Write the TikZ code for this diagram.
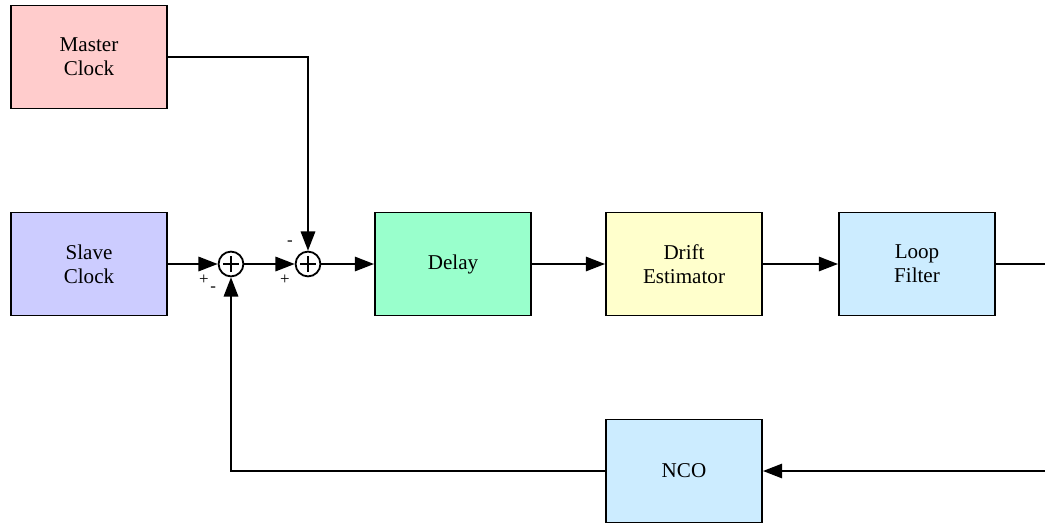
\documentclass[tikz,border=0pt]{standalone}
\usepackage{fontspec}
\setmainfont{Liberation Serif}
\definecolor{masterred}{RGB}{255,204,204}
\definecolor{slaveblue}{RGB}{204,204,255}
\definecolor{delaygreen}{RGB}{153,255,204}
\definecolor{driftyellow}{RGB}{255,255,204}
\definecolor{filtercyan}{RGB}{204,236,255}
\usetikzlibrary{arrows.meta,positioning,calc}

\begin{document}
\begin{tikzpicture}[
  block/.style={
    rectangle,
    minimum width=3.9cm, minimum height=2.575cm,
    draw=black, line width=1.4pt,
    font=\fontsize{15}{17}\selectfont,
    align=center
  },
  summer/.style={
    circle, draw=black, line width=1.3pt, minimum size=0.62cm, inner sep=0pt,
    path picture={
      \draw[line width=0.8pt] ($(path picture bounding box.center)+(-0.2,0)$) -- ($(path picture bounding box.center)+(0.2,0)$);
      \draw[line width=0.8pt] ($(path picture bounding box.center)+(0,-0.2)$) -- ($(path picture bounding box.center)+(0,0.2)$);
    }
  },
  sign/.style={font=\large, inner sep=0pt},
  wire/.style={line width=1.3pt, draw=black},
  conn/.style={-{Triangle[length=0.48cm, width=0.36cm]}, line width=1.3pt, draw=black}
]
\useasboundingbox (0,0) rectangle (26.125,-13.1);

\node[block, fill=masterred]   (master) at (2.225,-1.425)  {Master\\Clock};
\node[block, fill=slaveblue]   (slave)  at (2.225,-6.6)    {Slave\\Clock};
\node[summer]                  (sum1)   at (5.775,-6.6)    {};
\node[summer]                  (sum2)   at (7.7,-6.6)      {};
\node[block, fill=delaygreen]  (delay)  at (11.325,-6.6)   {Delay};
\node[block, fill=driftyellow] (drift)  at (17.1,-6.6)     {Drift\\Estimator};
\node[block, fill=filtercyan]  (loop)   at (22.925,-6.6)   {Loop\\Filter};
\node[block, fill=filtercyan]  (nco)    at (17.1,-11.775)  {NCO};

\coordinate (outR) at (26.125,-6.6);
\coordinate (inR)  at (26.125,-11.775);

\node[sign] (p1a) at (5.1,-7.0)    {+};
\node[sign] (m1b) at (5.33,-7.22)  {-};
\node[sign] (m2a) at (7.25,-6.08)  {-};
\node[sign] (p2b) at (7.12,-7.0)   {+};

\draw[conn] (slave) -- (sum1);
\draw[conn] (sum1) -- (sum2);
\draw[conn] (master.east) -| (sum2.north);
\draw[conn] (sum2) -- (delay);
\draw[conn] (delay) -- (drift);
\draw[conn] (drift) -- (loop);
\draw[wire] (loop) -- (outR);
\draw[conn] (inR) -- (nco);
\draw[conn] (nco.west) -| (sum1.south);
\end{tikzpicture}
\end{document}
